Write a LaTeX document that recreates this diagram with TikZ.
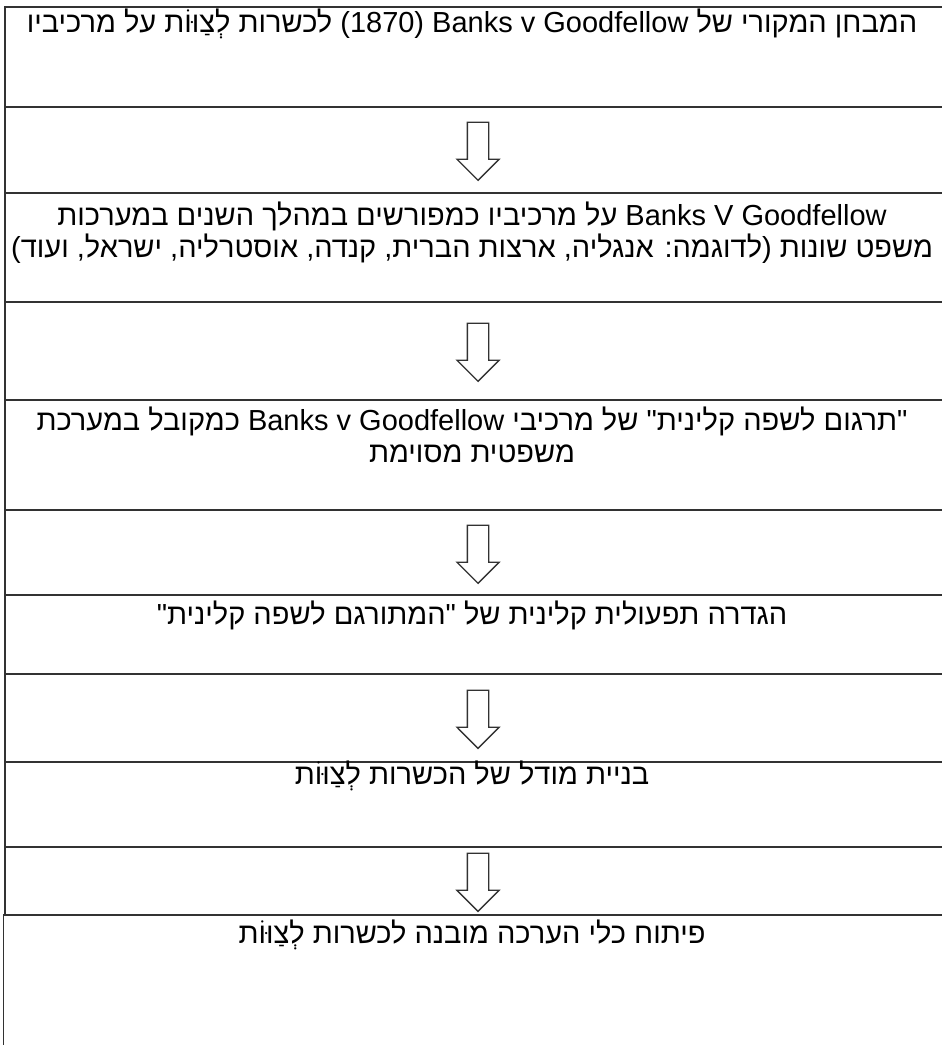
\documentclass[tikz,border=0pt]{standalone}
\usepackage{fontspec}
\setmainfont{Liberation Sans}
\newfontfamily\hebfont[Script=Hebrew]{Liberation Sans}
\TeXXeTstate=1
\usetikzlibrary{shapes.arrows}
\definecolor{gridgray}{RGB}{50,50,50}
\tikzset{
  gridline/.style={draw=gridgray,line width=1.2pt},
  rowtext/.style={anchor=north,align=center,inner sep=0pt,
    font=\hebfont\fontsize{29}{31.5}\selectfont},
  downarr/.style={single arrow,draw=gridgray,line width=1.3pt,rotate=-90,
    inner xsep=0pt,inner ysep=10pt,minimum height=58pt,
    single arrow head extend=10.5pt,single arrow head indent=0pt}
}

\begin{document}
\begin{tikzpicture}[x=1pt,y=-1pt]
  \useasboundingbox (0,0) rectangle (942,1045);
  % table rows
  \foreach \top/\bot in {7/107,107/193,193/302,302/400,400/510,510/595,595/674,674/762,762/847,847/915}
    \draw[gridline] (960,\top) -- (5,\top) -- (5,\bot) -- (960,\bot);
  \draw[gridline] (960,915) -- (3.5,915) -- (3.5,1050);
  % arrows between the steps
  \foreach \y [count=\i] in {146,347,549,714,877}
    \node[downarr] (arr\i) at (478,\y) {};
  % steps
  \node[rowtext] (t1) at (472,9) {\beginR המבחן המקורי של \beginL Banks v Goodfellow\endL{} \beginL(1870)\endL{} לכשרות לְצַוּוֹת על מרכיביו\endR};
  \node[rowtext] (t2) at (472,202) {\beginR\beginL Banks V Goodfellow\endL{} על מרכיביו כמפורשים במהלך השנים במערכות\endR\\
    \beginR משפט שונות (לדוגמה: אנגליה, ארצות הברית, קנדה, אוסטרליה, ישראל, ועוד)\endR};
  \node[rowtext] (t3) at (472,407) {\beginR"תרגום לשפה קלינית" של מרכיבי \beginL Banks v Goodfellow\endL{} כמקובל במערכת\endR\\
    \beginR משפטית מסוימת\endR};
  \node[rowtext] (t4) at (472,601) {\beginR הגדרה תפעולית קלינית של "המתורגם לשפה קלינית"\endR};
  \node[rowtext] (t5) at (472,761) {\beginR בניית מודל של הכשרות לְצַוּוֹת\endR};
  \node[rowtext] (t6) at (472,920) {\beginR פיתוח כלי הערכה מובנה לכשרות לְצַוּוֹת\endR};
\end{tikzpicture}
\end{document}
